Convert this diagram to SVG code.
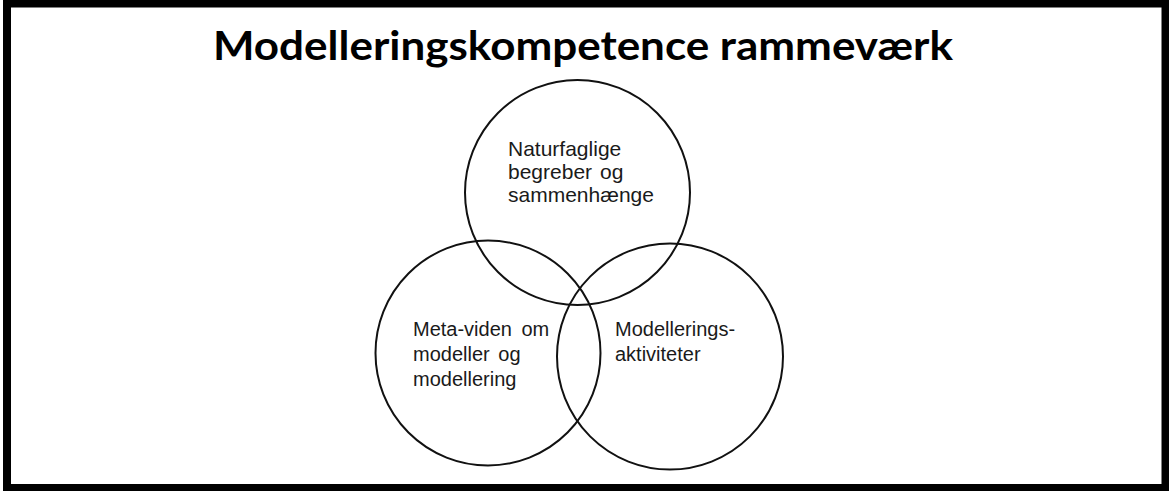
<svg xmlns="http://www.w3.org/2000/svg" width="1169" height="491" viewBox="0 0 1169 491">
<style>
.title{font-family:Lato,"Open Sans","Liberation Sans",sans-serif;font-weight:bold;font-size:40px;fill:#000}
.lbl{font-family:"Liberation Sans",Arial,sans-serif;font-size:20px;fill:#1a1a1a}
.c{fill:none;stroke:#111;stroke-width:2}
</style>
<rect x="0" y="0" width="1169" height="491" fill="#fff"/>
<rect id="frame" x="7" y="3.5" width="1158.5" height="484.5" fill="none" stroke="#000" stroke-width="8"/>
<text id="title" class="title" x="583" y="59.5" text-anchor="middle" textLength="740" lengthAdjust="spacingAndGlyphs">Modelleringskompetence rammeværk</text>
<g id="node-naturfaglige">
<circle class="c" cx="577.5" cy="192.5" r="112.5"/>
<text class="lbl" style="font-size:21px"><tspan x="508" y="156">Naturfaglige</tspan><tspan x="508" y="179">begreber</tspan><tspan x="600" y="179">og</tspan><tspan x="508" y="202">sammenhænge</tspan></text>
</g>
<g id="node-metaviden">
<circle class="c" cx="488" cy="353" r="112.5"/>
<text class="lbl"><tspan x="413" y="336" word-spacing="4">Meta-viden om</tspan><tspan x="413" y="361" word-spacing="3">modeller og</tspan><tspan x="413" y="386">modellering</tspan></text>
</g>
<g id="node-aktiviteter">
<circle class="c" cx="670" cy="356.5" r="113"/>
<text class="lbl"><tspan x="615" y="336">Modellerings-</tspan><tspan x="615" y="361">aktiviteter</tspan></text>
</g>
<g id="connectors"></g>
</svg>
